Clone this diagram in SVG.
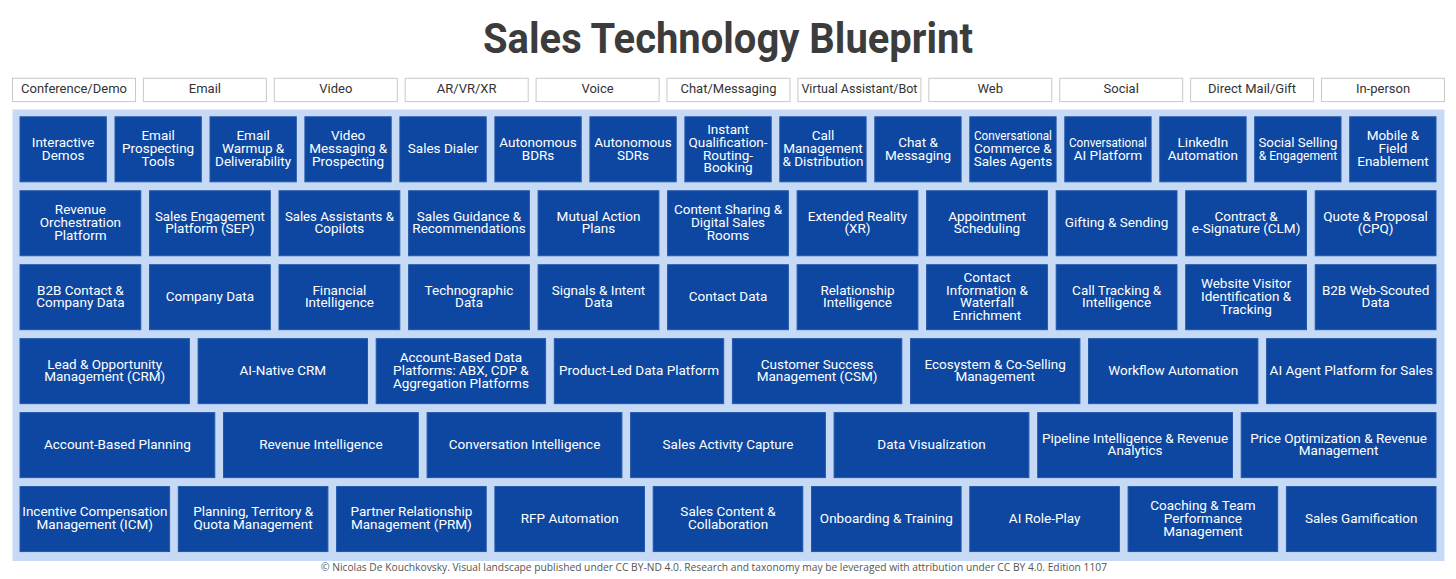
<svg xmlns="http://www.w3.org/2000/svg" width="1456" height="579" viewBox="0 0 1456 579">
<style>
.bg{fill:#ffffff}
.title{font-family:Roboto,"Liberation Sans",sans-serif;font-weight:700;font-size:42px;fill:#3c3c3c;text-anchor:middle}
.hb{fill:#ffffff;stroke:#c9c9c9;stroke-width:1}
.ht{font-family:Roboto,"Liberation Sans",sans-serif;font-size:13px;fill:#333333;text-anchor:middle}
.panel{fill:#c6daf6}
.b{fill:#0d47a1;stroke:#2457a8;stroke-width:1}
.t{font-family:Roboto,"Liberation Sans",sans-serif;font-size:13.5px;fill:#ffffff;text-anchor:middle}
.foot{font-family:"Open Sans","Liberation Sans",sans-serif;font-size:10px;fill:#555555;text-anchor:middle}
</style>
<rect class="bg" x="0" y="0" width="1456" height="579"/>
<text class="title" x="728" y="53" textLength="490" lengthAdjust="spacingAndGlyphs">Sales Technology Blueprint</text>

<g id="channels">
<g id="ch-conference"><rect class="hb" x="12.5" y="78.3" width="123" height="23.3"/><text class="ht" x="74" y="93.2">Conference/Demo</text></g>
<g id="ch-email"><rect class="hb" x="143.4" y="78.3" width="123" height="23.3"/><text class="ht" x="204.9" y="93.2">Email</text></g>
<g id="ch-video"><rect class="hb" x="274.3" y="78.3" width="123" height="23.3"/><text class="ht" x="335.8" y="93.2">Video</text></g>
<g id="ch-arvr"><rect class="hb" x="405.2" y="78.3" width="123" height="23.3"/><text class="ht" x="466.7" y="93.2">AR/VR/XR</text></g>
<g id="ch-voice"><rect class="hb" x="536.1" y="78.3" width="123" height="23.3"/><text class="ht" x="597.6" y="93.2">Voice</text></g>
<g id="ch-chat"><rect class="hb" x="667" y="78.3" width="123" height="23.3"/><text class="ht" x="728.5" y="93.2">Chat/Messaging</text></g>
<g id="ch-bot"><rect class="hb" x="797.9" y="78.3" width="123" height="23.3"/><text class="ht" x="859.4" y="93.2" textLength="116" lengthAdjust="spacingAndGlyphs">Virtual Assistant/Bot</text></g>
<g id="ch-web"><rect class="hb" x="928.8" y="78.3" width="123" height="23.3"/><text class="ht" x="990.3" y="93.2">Web</text></g>
<g id="ch-social"><rect class="hb" x="1059.7" y="78.3" width="123" height="23.3"/><text class="ht" x="1121.2" y="93.2">Social</text></g>
<g id="ch-mail"><rect class="hb" x="1190.6" y="78.3" width="123" height="23.3"/><text class="ht" x="1252.1" y="93.2">Direct Mail/Gift</text></g>
<g id="ch-inperson"><rect class="hb" x="1321.5" y="78.3" width="123" height="23.3"/><text class="ht" x="1383" y="93.2">In-person</text></g>
</g>

<rect id="panel" class="panel" x="12.5" y="109.5" width="1432" height="451.5"/>

<g id="connectors"></g>

<g id="row1">
<g id="n-interactive-demos"><rect class="b" x="20" y="116.8" width="86.3" height="65"/><text class="t" x="63.1" y="146.7">Interactive<tspan x="63.1" dy="12.8">Demos</tspan></text></g>
<g id="n-email-prospecting"><rect class="b" x="115" y="116.8" width="86.3" height="65"/><text class="t" x="158.1" y="140.3">Email<tspan x="158.1" dy="12.8">Prospecting</tspan><tspan x="158.1" dy="12.8">Tools</tspan></text></g>
<g id="n-email-warmup"><rect class="b" x="210" y="116.8" width="86.3" height="65"/><text class="t" x="253.1" y="140.3">Email<tspan x="253.1" dy="12.8">Warmup &amp;</tspan><tspan x="253.1" dy="12.8">Deliverability</tspan></text></g>
<g id="n-video-messaging"><rect class="b" x="304.9" y="116.8" width="86.3" height="65"/><text class="t" x="348.1" y="140.3">Video<tspan x="348.1" dy="12.8">Messaging &amp;</tspan><tspan x="348.1" dy="12.8">Prospecting</tspan></text></g>
<g id="n-sales-dialer"><rect class="b" x="399.9" y="116.8" width="86.3" height="65"/><text class="t" x="443.1" y="153.1">Sales Dialer</text></g>
<g id="n-autonomous-bdrs"><rect class="b" x="494.9" y="116.8" width="86.3" height="65"/><text class="t" x="538" y="146.7">Autonomous<tspan x="538" dy="12.8">BDRs</tspan></text></g>
<g id="n-autonomous-sdrs"><rect class="b" x="589.9" y="116.8" width="86.3" height="65"/><text class="t" x="633" y="146.7">Autonomous<tspan x="633" dy="12.8">SDRs</tspan></text></g>
<g id="n-instant-qualification"><rect class="b" x="684.9" y="116.8" width="86.3" height="65"/><text class="t" x="728" y="133.9">Instant<tspan x="728" dy="12.8">Qualification-</tspan><tspan x="728" dy="12.8">Routing-</tspan><tspan x="728" dy="12.8">Booking</tspan></text></g>
<g id="n-call-management"><rect class="b" x="779.8" y="116.8" width="86.3" height="65"/><text class="t" x="823" y="140.3">Call<tspan x="823" dy="12.8">Management</tspan><tspan x="823" dy="12.8">&amp; Distribution</tspan></text></g>
<g id="n-chat-messaging"><rect class="b" x="874.8" y="116.8" width="86.3" height="65"/><text class="t" x="918" y="146.7">Chat &amp;<tspan x="918" dy="12.8">Messaging</tspan></text></g>
<g id="n-conversational-commerce"><rect class="b" x="969.8" y="116.8" width="86.3" height="65"/><text class="t" x="1012.9" y="140.3"><tspan textLength="78" lengthAdjust="spacingAndGlyphs">Conversational</tspan><tspan x="1012.9" dy="12.8">Commerce &amp;</tspan><tspan x="1012.9" dy="12.8">Sales Agents</tspan></text></g>
<g id="n-conversational-ai"><rect class="b" x="1064.8" y="116.8" width="86.3" height="65"/><text class="t" x="1107.9" y="146.7"><tspan textLength="78" lengthAdjust="spacingAndGlyphs">Conversational</tspan><tspan x="1107.9" dy="12.8">AI Platform</tspan></text></g>
<g id="n-linkedin-automation"><rect class="b" x="1159.8" y="116.8" width="86.3" height="65"/><text class="t" x="1202.9" y="146.7">LinkedIn<tspan x="1202.9" dy="12.8">Automation</tspan></text></g>
<g id="n-social-selling"><rect class="b" x="1254.7" y="116.8" width="86.3" height="65"/><text class="t" x="1297.9" y="146.7"><tspan textLength="79" lengthAdjust="spacingAndGlyphs">Social Selling</tspan><tspan x="1297.9" dy="12.8" textLength="78.5" lengthAdjust="spacingAndGlyphs">&amp; Engagement</tspan></text></g>
<g id="n-mobile-field"><rect class="b" x="1349.7" y="116.8" width="86.3" height="65"/><text class="t" x="1392.9" y="140.3">Mobile &amp;<tspan x="1392.9" dy="12.8">Field</tspan><tspan x="1392.9" dy="12.8">Enablement</tspan></text></g>
</g>

<g id="row2">
<g id="n-revenue-orchestration"><rect class="b" x="20" y="190.75" width="120.8" height="65"/><text class="t" x="80.4" y="214.25">Revenue<tspan x="80.4" dy="12.8">Orchestration</tspan><tspan x="80.4" dy="12.8">Platform</tspan></text></g>
<g id="n-sep"><rect class="b" x="149.5" y="190.75" width="120.8" height="65"/><text class="t" x="209.9" y="220.65"><tspan textLength="110" lengthAdjust="spacingAndGlyphs">Sales Engagement</tspan><tspan x="209.9" dy="12.8">Platform (SEP)</tspan></text></g>
<g id="n-sales-assistants"><rect class="b" x="279" y="190.75" width="120.8" height="65"/><text class="t" x="339.4" y="220.65"><tspan textLength="109" lengthAdjust="spacingAndGlyphs">Sales Assistants &amp;</tspan><tspan x="339.4" dy="12.8">Copilots</tspan></text></g>
<g id="n-sales-guidance"><rect class="b" x="408.6" y="190.75" width="120.8" height="65"/><text class="t" x="469" y="220.65">Sales Guidance &amp;<tspan x="469" dy="12.8">Recommendations</tspan></text></g>
<g id="n-mutual-action"><rect class="b" x="538.1" y="190.75" width="120.8" height="65"/><text class="t" x="598.5" y="220.65">Mutual Action<tspan x="598.5" dy="12.8">Plans</tspan></text></g>
<g id="n-content-sharing"><rect class="b" x="667.6" y="190.75" width="120.8" height="65"/><text class="t" x="728" y="214.25">Content Sharing &amp;<tspan x="728" dy="12.8">Digital Sales</tspan><tspan x="728" dy="12.8">Rooms</tspan></text></g>
<g id="n-extended-reality"><rect class="b" x="797.1" y="190.75" width="120.8" height="65"/><text class="t" x="857.5" y="220.65">Extended Reality<tspan x="857.5" dy="12.8">(XR)</tspan></text></g>
<g id="n-appointment-scheduling"><rect class="b" x="926.6" y="190.75" width="120.8" height="65"/><text class="t" x="987" y="220.65">Appointment<tspan x="987" dy="12.8">Scheduling</tspan></text></g>
<g id="n-gifting"><rect class="b" x="1056.2" y="190.75" width="120.8" height="65"/><text class="t" x="1116.6" y="227.05">Gifting &amp; Sending</text></g>
<g id="n-clm"><rect class="b" x="1185.7" y="190.75" width="120.8" height="65"/><text class="t" x="1246.1" y="220.65">Contract &amp;<tspan x="1246.1" dy="12.8">e-Signature (CLM)</tspan></text></g>
<g id="n-cpq"><rect class="b" x="1315.2" y="190.75" width="120.8" height="65"/><text class="t" x="1375.6" y="220.65">Quote &amp; Proposal<tspan x="1375.6" dy="12.8">(CPQ)</tspan></text></g>
</g>

<g id="row3">
<g id="n-b2b-contact"><rect class="b" x="20" y="264.7" width="120.8" height="65"/><text class="t" x="80.4" y="294.6">B2B Contact &amp;<tspan x="80.4" dy="12.8">Company Data</tspan></text></g>
<g id="n-company-data"><rect class="b" x="149.5" y="264.7" width="120.8" height="65"/><text class="t" x="209.9" y="301">Company Data</text></g>
<g id="n-financial-intelligence"><rect class="b" x="279" y="264.7" width="120.8" height="65"/><text class="t" x="339.4" y="294.6">Financial<tspan x="339.4" dy="12.8">Intelligence</tspan></text></g>
<g id="n-technographic"><rect class="b" x="408.6" y="264.7" width="120.8" height="65"/><text class="t" x="469" y="294.6">Technographic<tspan x="469" dy="12.8">Data</tspan></text></g>
<g id="n-signals-intent"><rect class="b" x="538.1" y="264.7" width="120.8" height="65"/><text class="t" x="598.5" y="294.6">Signals &amp; Intent<tspan x="598.5" dy="12.8">Data</tspan></text></g>
<g id="n-contact-data"><rect class="b" x="667.6" y="264.7" width="120.8" height="65"/><text class="t" x="728" y="301">Contact Data</text></g>
<g id="n-relationship-intelligence"><rect class="b" x="797.1" y="264.7" width="120.8" height="65"/><text class="t" x="857.5" y="294.6">Relationship<tspan x="857.5" dy="12.8">Intelligence</tspan></text></g>
<g id="n-waterfall-enrichment"><rect class="b" x="926.6" y="264.7" width="120.8" height="65"/><text class="t" x="987" y="281.8">Contact<tspan x="987" dy="12.8">Information &amp;</tspan><tspan x="987" dy="12.8">Waterfall</tspan><tspan x="987" dy="12.8">Enrichment</tspan></text></g>
<g id="n-call-tracking"><rect class="b" x="1056.2" y="264.7" width="120.8" height="65"/><text class="t" x="1116.6" y="294.6">Call Tracking &amp;<tspan x="1116.6" dy="12.8">Intelligence</tspan></text></g>
<g id="n-website-visitor"><rect class="b" x="1185.7" y="264.7" width="120.8" height="65"/><text class="t" x="1246.1" y="288.2">Website Visitor<tspan x="1246.1" dy="12.8">Identification &amp;</tspan><tspan x="1246.1" dy="12.8">Tracking</tspan></text></g>
<g id="n-web-scouted"><rect class="b" x="1315.2" y="264.7" width="120.8" height="65"/><text class="t" x="1375.6" y="294.6">B2B Web-Scouted<tspan x="1375.6" dy="12.8">Data</tspan></text></g>
</g>

<g id="row4">
<g id="n-crm"><rect class="b" x="20" y="338.65" width="169.4" height="65"/><text class="t" x="104.7" y="368.55">Lead &amp; Opportunity<tspan x="104.7" dy="12.8">Management (CRM)</tspan></text></g>
<g id="n-ai-native-crm"><rect class="b" x="198.1" y="338.65" width="169.4" height="65"/><text class="t" x="282.8" y="374.95">AI-Native CRM</text></g>
<g id="n-abx"><rect class="b" x="376.2" y="338.65" width="169.4" height="65"/><text class="t" x="460.9" y="362.15">Account-Based Data<tspan x="460.9" dy="12.8">Platforms: ABX, CDP &amp;</tspan><tspan x="460.9" dy="12.8">Aggregation Platforms</tspan></text></g>
<g id="n-product-led"><rect class="b" x="554.3" y="338.65" width="169.4" height="65"/><text class="t" x="639" y="374.95">Product-Led Data Platform</text></g>
<g id="n-csm"><rect class="b" x="732.4" y="338.65" width="169.4" height="65"/><text class="t" x="817.1" y="368.55">Customer Success<tspan x="817.1" dy="12.8">Management (CSM)</tspan></text></g>
<g id="n-ecosystem"><rect class="b" x="910.5" y="338.65" width="169.4" height="65"/><text class="t" x="995.2" y="368.55">Ecosystem &amp; Co-Selling<tspan x="995.2" dy="12.8">Management</tspan></text></g>
<g id="n-workflow"><rect class="b" x="1088.5" y="338.65" width="169.4" height="65"/><text class="t" x="1173.2" y="374.95">Workflow Automation</text></g>
<g id="n-ai-agent"><rect class="b" x="1266.6" y="338.65" width="169.4" height="65"/><text class="t" x="1351.3" y="374.95">AI Agent Platform for Sales</text></g>
</g>

<g id="row5">
<g id="n-abp"><rect class="b" x="20" y="412.6" width="194.8" height="65"/><text class="t" x="117.4" y="448.9">Account-Based Planning</text></g>
<g id="n-revenue-intelligence"><rect class="b" x="223.5" y="412.6" width="194.8" height="65"/><text class="t" x="320.9" y="448.9">Revenue Intelligence</text></g>
<g id="n-conversation-intelligence"><rect class="b" x="427.1" y="412.6" width="194.8" height="65"/><text class="t" x="524.5" y="448.9">Conversation Intelligence</text></g>
<g id="n-activity-capture"><rect class="b" x="630.6" y="412.6" width="194.8" height="65"/><text class="t" x="728" y="448.9">Sales Activity Capture</text></g>
<g id="n-data-visualization"><rect class="b" x="834.1" y="412.6" width="194.8" height="65"/><text class="t" x="931.5" y="448.9">Data Visualization</text></g>
<g id="n-pipeline-intelligence"><rect class="b" x="1037.7" y="412.6" width="194.8" height="65"/><text class="t" x="1135.1" y="442.5">Pipeline Intelligence &amp; Revenue<tspan x="1135.1" dy="12.8">Analytics</tspan></text></g>
<g id="n-price-optimization"><rect class="b" x="1241.2" y="412.6" width="194.8" height="65"/><text class="t" x="1338.6" y="442.5">Price Optimization &amp; Revenue<tspan x="1338.6" dy="12.8">Management</tspan></text></g>
</g>

<g id="row6">
<g id="n-icm"><rect class="b" x="20" y="486.55" width="149.6" height="65"/><text class="t" x="94.8" y="516.45">Incentive Compensation<tspan x="94.8" dy="12.8">Management (ICM)</tspan></text></g>
<g id="n-planning-territory"><rect class="b" x="178.3" y="486.55" width="149.6" height="65"/><text class="t" x="253.1" y="516.45">Planning, Territory &amp;<tspan x="253.1" dy="12.8">Quota Management</tspan></text></g>
<g id="n-prm"><rect class="b" x="336.6" y="486.55" width="149.6" height="65"/><text class="t" x="411.4" y="516.45">Partner Relationship<tspan x="411.4" dy="12.8">Management (PRM)</tspan></text></g>
<g id="n-rfp"><rect class="b" x="494.9" y="486.55" width="149.6" height="65"/><text class="t" x="569.7" y="522.85">RFP Automation</text></g>
<g id="n-sales-content"><rect class="b" x="653.2" y="486.55" width="149.6" height="65"/><text class="t" x="728" y="516.45">Sales Content &amp;<tspan x="728" dy="12.8">Collaboration</tspan></text></g>
<g id="n-onboarding"><rect class="b" x="811.5" y="486.55" width="149.6" height="65"/><text class="t" x="886.3" y="522.85">Onboarding &amp; Training</text></g>
<g id="n-ai-roleplay"><rect class="b" x="969.8" y="486.55" width="149.6" height="65"/><text class="t" x="1044.6" y="522.85">AI Role-Play</text></g>
<g id="n-coaching"><rect class="b" x="1128.1" y="486.55" width="149.6" height="65"/><text class="t" x="1202.9" y="510.05">Coaching &amp; Team<tspan x="1202.9" dy="12.8">Performance</tspan><tspan x="1202.9" dy="12.8">Management</tspan></text></g>
<g id="n-gamification"><rect class="b" x="1286.4" y="486.55" width="149.6" height="65"/><text class="t" x="1361.2" y="522.85">Sales Gamification</text></g>
</g>

<text class="foot" x="714" y="570.5" textLength="786" lengthAdjust="spacingAndGlyphs">© Nicolas De Kouchkovsky. Visual landscape published under CC BY-ND 4.0. Research and taxonomy may be leveraged with attribution under CC BY 4.0. Edition 1107</text>
</svg>
